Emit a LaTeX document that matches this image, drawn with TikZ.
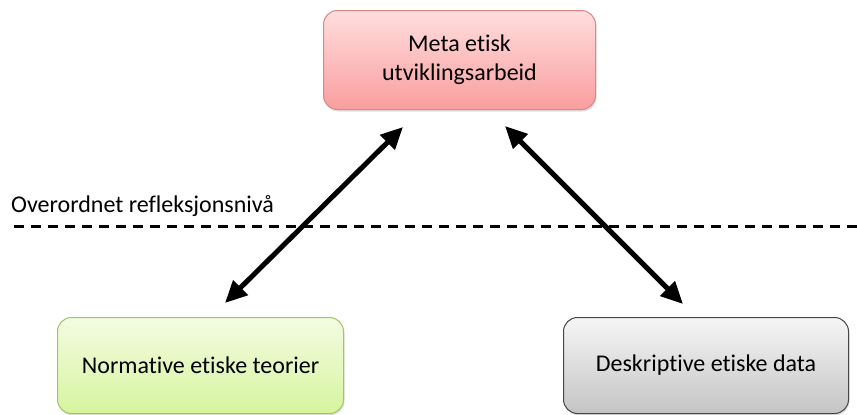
\documentclass[tikz,border=0pt]{standalone}
\usepackage{fontspec}
\setmainfont{Carlito}[Ligatures=NoCommon]
\usetikzlibrary{arrows.meta,shadows}

\definecolor{metaTop}{RGB}{255,222,222}
\definecolor{metaBot}{RGB}{250,158,158}
\definecolor{metaLine}{RGB}{226,132,132}
\definecolor{normTop}{RGB}{244,251,226}
\definecolor{normBot}{RGB}{214,245,158}
\definecolor{normLine}{RGB}{160,200,96}
\definecolor{deskTop}{RGB}{246,246,246}
\definecolor{deskBot}{RGB}{196,196,196}
\definecolor{deskLine}{RGB}{70,70,70}

\tikzset{
  box/.style={rounded corners=14pt, line width=1pt, align=center,
    inner sep=0pt, anchor=north west,
    font=\fontsize{24}{29}\selectfont,
    drop shadow={opacity=0.25, shadow xshift=1pt, shadow yshift=-2pt}},
  metabox/.style={box, draw=metaLine, top color=metaTop, bottom color=metaBot},
  normbox/.style={box, draw=normLine, top color=normTop, bottom color=normBot},
  deskbox/.style={box, draw=deskLine, top color=deskTop, bottom color=deskBot},
  link/.style={line width=5pt, {Triangle[length=22pt,width=20pt]}-{Triangle[length=22pt,width=20pt]}},
  level/.style={line width=3pt, dash pattern=on 10pt off 7pt},
  levellabel/.style={anchor=base west, inner sep=0pt, font=\fontsize{24}{29}\selectfont}
}

\begin{document}
\begin{tikzpicture}[x=1pt,y=-1pt]
  \useasboundingbox (0,0) rectangle (857,415);

  % three boxes
  \node[metabox, minimum width=272pt, minimum height=99pt] (meta) at (323,10)
    {Meta etisk\\utviklingsarbeid};
  \node[normbox, minimum width=286pt, minimum height=96pt] (norm) at (57,317)
    {Normative etiske teorier};
  \node[deskbox, minimum width=285pt, minimum height=96pt] (desk) at (563,317)
    {Deskriptive etiske data};

  % level of reflection
  \coordinate (lvlA) at (14,226);
  \coordinate (lvlB) at (857,226);
  \draw[level] (lvlA) -- (lvlB);
  \node[levellabel] (lvl) at (11,212) {Overordnet refleksjonsnivå};

  % two-way links
  \coordinate (normEnd) at (225,303);
  \coordinate (metaL) at (403,127);
  \coordinate (metaR) at (505,126);
  \coordinate (deskEnd) at (683,304);
  \draw[link] (normEnd) -- (metaL);
  \draw[link] (metaR) -- (deskEnd);
\end{tikzpicture}
\end{document}
